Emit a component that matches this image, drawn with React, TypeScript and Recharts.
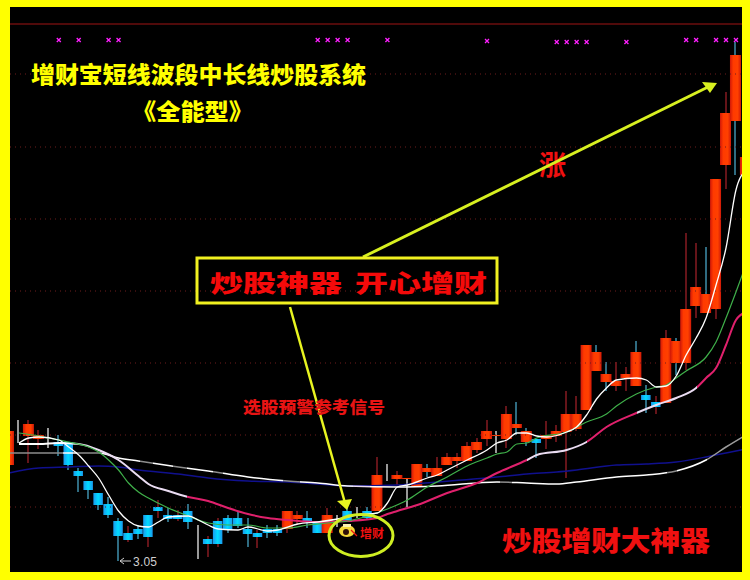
import { ComposedChart, Bar, Line, XAxis, YAxis, ReferenceLine } from 'recharts';

// one entry per candle, left to right
const opens = [4.97, 5.41, 5.55, 5.49, 5.47, 5.43, 5.43, 4.85, 4.65, 4.41, 4.19, 3.85, 3.61, 3.69, 3.97, 4.13, 3.97, 3.97, 4.05, 3.77, 3.49, 3.85, 3.91, 3.91, 3.69, 3.61, 3.69, 3.69, 3.69, 3.89, 3.91, 3.85, 3.61, 3.85, 4.05, 4.05, 4.05, 4.05, 4.8, 4.69, 4.69, 4.53, 4.83, 4.75, 4.97, 5.05, 5.05, 5.27, 5.49, 5.55, 5.49, 5.71, 5.43, 5.49, 5.49, 5.55, 5.63, 5.69, 6.07, 6.85, 6.63, 6.55, 6.71, 6.55, 6.37, 6.23, 6.21, 7.01, 7.01, 8.15, 8.01, 8.09, 10.97, 11.85, 10.77];
const closes = [5.65, 5.41, 5.79, 5.57, 5.47, 5.35, 4.97, 4.75, 4.47, 4.17, 3.97, 3.55, 3.47, 3.59, 3.53, 4.05, 3.89, 3.89, 3.83, 3.77, 3.39, 3.39, 3.67, 3.75, 3.59, 3.53, 3.61, 3.61, 4.05, 3.97, 3.83, 3.61, 3.97, 3.85, 3.83, 4.05, 3.91, 4.77, 4.8, 4.77, 4.71, 4.99, 4.91, 4.91, 5.13, 5.13, 5.35, 5.43, 5.65, 5.57, 5.99, 5.79, 5.65, 5.41, 5.57, 5.65, 5.99, 5.99, 7.37, 7.23, 6.79, 6.65, 6.79, 7.23, 6.27, 6.13, 7.51, 7.45, 8.09, 8.53, 8.39, 10.69, 12.01, 13.17, 11.13];
const highs = [5.65, 5.87, 5.87, 5.67, 5.71, 5.57, 5.43, 4.91, 4.65, 4.41, 4.33, 3.91, 3.75, 3.77, 3.97, 4.27, 4.11, 4.07, 4.19, 3.77, 3.55, 3.91, 3.97, 4.05, 3.91, 3.67, 3.77, 3.77, 4.05, 4.05, 4.05, 3.85, 4.11, 3.97, 4.11, 4.13, 4.13, 5.13, 4.99, 4.85, 4.71, 4.99, 4.99, 5.13, 5.21, 5.21, 5.43, 5.51, 5.87, 5.65, 6.15, 6.23, 5.71, 5.49, 5.85, 5.77, 6.45, 6.35, 7.37, 7.37, 7.03, 7.03, 6.93, 7.45, 6.57, 6.35, 7.67, 7.51, 9.61, 9.41, 9.33, 10.69, 12.43, 13.43, 11.13];
const lows = [4.97, 5.41, 5.01, 5.29, 5.31, 5.15, 4.87, 4.43, 4.29, 4.07, 3.91, 3.05, 3.43, 3.49, 3.33, 3.91, 3.83, 3.85, 3.69, 3.09, 3.13, 3.33, 3.61, 3.71, 3.33, 3.31, 3.51, 3.55, 3.61, 3.79, 3.71, 3.61, 3.61, 3.73, 3.83, 3.91, 3.87, 4.05, 4.65, 4.57, 4.13, 4.53, 4.73, 4.75, 4.97, 4.91, 5.05, 5.21, 5.35, 5.21, 5.31, 5.57, 5.35, 5.11, 5.29, 5.43, 4.71, 5.65, 6.07, 6.85, 6.45, 6.45, 6.45, 6.55, 6.01, 5.99, 6.21, 6.77, 6.87, 7.91, 8.01, 7.89, 10.49, 10.77, 10.77];
// wick colour per candle, five to a group: r red, b light blue, w white
const wickKinds = ['rwrrw', 'bbbbb', 'bbrbr', 'rbrbw', 'rrbbb', 'rbbrr', 'bbrwb', 'wbrwr', 'wrbrr', 'rrrrw', 'rbbbr', 'rrrrb', 'brrbb', 'rrbrr', 'brrbr'].join('');

// moving averages, read as [candle, price]
const fastLine = [[1, 5.41], [2, 5.51], [3, 5.53], [5, 5.47], [6, 5.33], [7, 5.17], [8, 4.95], [9, 4.71], [10, 4.37], [11, 4.05], [12, 3.85], [13, 3.75], [14, 3.73], [15, 3.83], [16, 3.93], [18, 3.95], [19, 3.87], [20, 3.77], [21, 3.69], [23, 3.67], [24, 3.73], [26, 3.65], [27, 3.67], [29, 3.79], [31, 3.83], [33, 3.89], [35, 3.97], [37, 4.01], [38, 4.21], [39, 4.53], [40, 4.57], [42, 4.71], [43, 4.77], [44, 4.87], [46, 5.07], [48, 5.27], [49, 5.41], [50, 5.47], [51, 5.61], [52, 5.61], [53, 5.55], [54, 5.53], [56, 5.63], [57, 5.73], [58, 5.97], [59, 6.29], [60, 6.51], [61, 6.67], [63, 6.71], [64, 6.67], [65, 6.53], [66, 6.55], [67, 6.75], [68, 7.17], [69, 7.51], [70, 7.91], [71, 8.57], [72, 9.31], [73, 10.47], [74, 10.87]];
const greenLine = [[1, 5.61], [3, 5.55], [4, 5.51], [6, 5.43], [8, 5.33], [9, 5.23], [10, 5.07], [11, 4.87], [12, 4.61], [13, 4.43], [14, 4.31], [16, 4.11], [18, 3.95], [20, 3.81], [22, 3.77], [24, 3.77], [26, 3.71], [28, 3.71], [30, 3.77], [32, 3.81], [34, 3.85], [36, 3.95], [38, 4.09], [40, 4.27], [42, 4.53], [44, 4.73], [46, 4.95], [48, 5.11], [49, 5.19], [50, 5.23], [51, 5.39], [52, 5.41], [53, 5.51], [56, 5.63], [58, 5.83], [60, 5.99], [61, 6.15], [63, 6.39], [65, 6.53], [66, 6.57], [67, 6.71], [68, 6.85], [70, 7.13], [71, 7.43], [72, 7.91], [73, 8.43], [74, 8.97]];
const pinkLine = [[1, 5.39], [3, 5.39], [5, 5.41], [7, 5.39], [9, 5.27], [11, 5.07], [13, 4.75], [14, 4.59], [16, 4.45], [18, 4.33], [20, 4.25], [22, 4.11], [24, 3.99], [26, 3.91], [28, 3.87], [31, 3.83], [34, 3.85], [37, 3.91], [38, 3.99], [39, 4.05], [41, 4.17], [44, 4.41], [47, 4.61], [49, 4.81], [52, 5.07], [53, 5.17], [56, 5.27], [58, 5.43], [60, 5.73], [63, 6.01], [65, 6.17], [67, 6.31], [69, 6.51], [70, 6.71], [71, 6.91], [72, 7.37], [73, 7.87], [74, 8.03]];
const greyLine = [[0, 5.21], [3, 5.21], [6, 5.21], [9, 5.21], [11, 5.11], [13, 5.05], [17, 4.93], [20, 4.85], [24, 4.73], [28, 4.65], [31, 4.61], [34, 4.55], [39, 4.53], [43, 4.55], [49, 4.63], [52, 4.61], [55, 4.59], [57, 4.63], [61, 4.73], [64, 4.77], [67, 4.85], [70, 5.07], [72, 5.33], [74, 5.57]];
const blueLine = [[0, 4.81], [3, 4.91], [6, 4.93], [9, 4.95], [11, 4.93], [13, 4.87], [17, 4.79], [20, 4.71], [24, 4.65], [28, 4.63], [31, 4.59], [34, 4.55], [39, 4.57], [43, 4.63], [49, 4.73], [52, 4.79], [55, 4.83], [57, 4.87], [61, 4.97], [64, 4.99], [67, 5.03], [70, 5.13], [72, 5.21], [74, 5.29]];

// signal crosses along the top, read as [candle, price]
const signalMarks = [[5, 13.47], [7, 13.47], [10, 13.47], [11, 13.47], [31, 13.47], [32, 13.47], [33, 13.47], [34, 13.47], [38, 13.47], [48, 13.45], [55, 13.43], [56, 13.43], [57, 13.43], [58, 13.43], [62, 13.43], [68, 13.47], [69, 13.47], [71, 13.47], [72, 13.47], [73, 13.47]];

const gridPrices = [12.79, 11.33, 9.89, 8.45, 7.01, 5.57, 4.13];
const topPrice = 13.79;

const lookup = (pairs: number[][]) => new Map(pairs.map(([i, v]) => [i, v]));
const fastMap = lookup(fastLine);
const greenMap = lookup(greenLine);
const pinkMap = lookup(pinkLine);
const greyMap = lookup(greyLine);
const blueMap = lookup(blueLine);
const signalMap = lookup(signalMarks);

const rows = opens.map((open, i) => ({
  index: i,
  open,
  close: closes[i],
  high: highs[i],
  low: lows[i],
  range: [lows[i], highs[i]],
  wick: wickKinds[i],
  fast: fastMap.get(i) ?? null,
  green: greenMap.get(i) ?? null,
  pink: pinkMap.get(i) ?? null,
  grey: greyMap.get(i) ?? null,
  blue: blueMap.get(i) ?? null,
  signal: signalMap.get(i) ?? null,
}));

const WICK_COLORS: Record<string, string> = { r: '#a8222a', b: '#4fb4d8', w: '#ffffff' };

function Candle(props: any) {
  const { x, y, width, height, payload } = props;
  const { open, close, high, low, wick } = payload;
  const toY = (p: number) => y + ((high - p) / (high - low)) * height;
  const center = x + width / 2;
  const mid = Math.round(center);
  const up = close > open;
  const top = toY(Math.max(open, close));
  const bottom = toY(Math.min(open, close));
  const half = up ? 5.5 : 4.75;
  return (
    <g>
      <line x1={mid} x2={mid} y1={y} y2={y + height} stroke={WICK_COLORS[wick]} strokeWidth={1.2} />
      {open !== close && (
        <rect
          x={center - half}
          y={top}
          width={half * 2}
          height={Math.max(bottom - top, 1)}
          fill={up ? 'url(#redBody)' : 'url(#blueBody)'}
        />
      )}
    </g>
  );
}

function SignalCross(props: any) {
  const { cx, cy, value, index } = props;
  if (value == null) return <g key={index} />;
  return (
    <path
      key={index}
      d={`M${cx - 2} ${cy - 2}L${cx + 2} ${cy + 2}M${cx + 2} ${cy - 2}L${cx - 2} ${cy + 2}`}
      stroke="#ff20ff"
      strokeWidth={1.3}
    />
  );
}

// hard colour bands along a line, [colour, x where it ends]
const bandStops = (bands: [string, number][]) => {
  let start = 0;
  return bands.flatMap(([color, end], i) => {
    const stops = [
      <stop key={`${i}a`} offset={start / 750} stopColor={color} />,
      <stop key={`${i}b`} offset={end / 750} stopColor={color} />,
    ];
    start = end;
    return stops;
  });
};

const PALE = '#eadcf2';
const PINK = '#e0206c';
const pinkBands: [string, number][] = [['#ffffff', 75], [PALE, 187], [PINK, 527], [PALE, 587], [PINK, 637], [PALE, 697], [PINK, 750]];
const greyBands: [string, number][] = [['#8c8c8c', 63], ['#ffffff', 77], ['#8c8c8c', 100], ['#ffffff', 140], ['#8c8c8c', 153], ['#ffffff', 173], ['#8c8c8c', 187], ['#ffffff', 213], ['#8c8c8c', 223], ['#ffffff', 283], ['#8c8c8c', 300], ['#ffffff', 353], [PALE, 370], ['#ffffff', 500], ['#8c8c8c', 512], ['#ffffff', 667], ['#8c8c8c', 677], ['#ffffff', 707], ['#9c9c9c', 750]];

const CJK = '"Noto Sans CJK SC", sans-serif';
const ARROW = '#d8f020';

function Annotations() {
  return (
    <svg width={750} height={580} style={{ position: 'absolute', left: 0, top: 0 }}>
      <text x={31} y={83} fill="#ffff00" fontFamily={CJK} fontWeight={900} fontSize={23} textLength={335} lengthAdjust="spacingAndGlyphs">
        增财宝短线波段中长线炒股系统
      </text>
      <text x={132} y={120} fill="#ffff00" fontFamily={CJK} fontWeight={900} fontSize={23} textLength={121} lengthAdjust="spacingAndGlyphs">
        《全能型》
      </text>
      <text x={539} y={175} fill="#f01010" fontFamily={CJK} fontWeight={700} fontSize={27}>
        涨
      </text>

      <line x1={363} y1={257} x2={708} y2={87} stroke={ARROW} strokeWidth={3} />
      <polygon points="702,82 717,83 710,93" fill={ARROW} />
      <line x1={290} y1={307} x2={345} y2={503} stroke="#e8f420" strokeWidth={2.5} />
      <polygon points="337,501 352,499 347,510" fill="#e8f420" />

      <rect x={197} y={258} width={300} height={45} fill="none" stroke="#f0f020" strokeWidth={3} />
      <text x={210} y={292} fill="#f40a0a" fontFamily={CJK} fontWeight={900} fontSize={24} textLength={132} lengthAdjust="spacingAndGlyphs">
        炒股神器
      </text>
      <text x={355} y={292} fill="#f40a0a" fontFamily={CJK} fontWeight={900} fontSize={24} textLength={132} lengthAdjust="spacingAndGlyphs">
        开心增财
      </text>
      <text x={243} y={413} fill="#e81414" fontFamily={CJK} fontWeight={900} fontSize={16} textLength={142} lengthAdjust="spacingAndGlyphs">
        选股预警参考信号
      </text>
      <text x={502} y={551} fill="#f01010" fontFamily={CJK} fontWeight={900} fontSize={27} textLength={208} lengthAdjust="spacingAndGlyphs">
        炒股增财大神器
      </text>

      <line x1={120} y1={561} x2={131} y2={561} stroke="#d0d0d0" strokeWidth={1} />
      <path d="M124 558L120 561L124 564" fill="none" stroke="#d0d0d0" />
      <text x={133} y={566} fill="#d0d0d0" fontFamily="Liberation Sans" fontSize={12} textLength={24}>
        3.05
      </text>

      <ellipse cx={361} cy={535.5} rx={32} ry={21} fill="none" stroke="#cfee22" strokeWidth={3} />
      <ellipse cx={347} cy={531} rx={8} ry={6} fill="#f5d838" />
      <rect x={343} y={524} width={8} height={3} fill="#fbf2b0" />
      <circle cx={346} cy={532} r={3} fill="#301008" />
      <line x1={351} y1={530} x2={357} y2={536} stroke="#f01010" strokeWidth={1.2} />
      <text x={360} y={538} fill="#f01010" fontFamily={CJK} fontSize={12} fontWeight={700}>
        增财
      </text>
    </svg>
  );
}

export default function App() {
  return (
    <div style={{ position: 'fixed', left: 0, top: 0, width: 750, height: 580, background: '#000', overflow: 'hidden' }}>
      <ComposedChart width={750} height={580} data={rows} margin={{ top: 0, right: 0, bottom: 0, left: 0 }}>
        <defs>
          <linearGradient id="redBody" x1="0" y1="0" x2="1" y2="0">
            <stop offset="0%" stopColor="#d01808" />
            <stop offset="30%" stopColor="#ff3a00" />
            <stop offset="70%" stopColor="#ff4000" />
            <stop offset="100%" stopColor="#d01808" />
          </linearGradient>
          <linearGradient id="blueBody" x1="0" y1="0" x2="1" y2="0">
            <stop offset="0%" stopColor="#1a98ee" />
            <stop offset="50%" stopColor="#00dcff" />
            <stop offset="100%" stopColor="#1a98ee" />
          </linearGradient>
          <linearGradient id="pinkStroke" gradientUnits="userSpaceOnUse" x1="0" y1="0" x2="750" y2="0">
            {bandStops(pinkBands)}
          </linearGradient>
          <linearGradient id="greyStroke" gradientUnits="userSpaceOnUse" x1="0" y1="0" x2="750" y2="0">
            {bandStops(greyBands)}
          </linearGradient>
        </defs>
        <XAxis hide type="number" dataKey="index" domain={[-0.904, 74.41]} allowDataOverflow />
        <YAxis hide domain={[2.67, 14.27]} allowDataOverflow />
        {gridPrices.map((p) => (
          <ReferenceLine key={p} y={p} stroke="#6e1c1c" strokeDasharray="1 4" />
        ))}
        <ReferenceLine y={topPrice} stroke="#a01414" strokeWidth={1} />
        <Line dataKey="blue" stroke="#10108e" strokeWidth={1.5} dot={false} connectNulls type="monotone" isAnimationActive={false} />
        <Line dataKey="grey" stroke="url(#greyStroke)" strokeWidth={1.5} dot={false} connectNulls type="monotone" isAnimationActive={false} />
        <Line dataKey="pink" stroke="url(#pinkStroke)" strokeWidth={2} dot={false} connectNulls type="monotone" isAnimationActive={false} />
        <Line dataKey="green" stroke="#3fb04a" strokeWidth={1.2} dot={false} connectNulls type="monotone" isAnimationActive={false} />
        <Line dataKey="fast" stroke="#ffffff" strokeWidth={1.3} dot={false} connectNulls type="monotone" isAnimationActive={false} />
        <Bar dataKey="range" barSize={11} shape={Candle} isAnimationActive={false} />
        <Line dataKey="signal" stroke="none" dot={SignalCross} activeDot={false} isAnimationActive={false} />
      </ComposedChart>
      <Annotations />
      <div
        style={{
          position: 'absolute',
          left: 0,
          top: 0,
          width: 750,
          height: 580,
          boxSizing: 'border-box',
          borderStyle: 'solid',
          borderColor: '#ffff00',
          borderWidth: '7px 8px 8px 10px',
        }}
      />
    </div>
  );
}
